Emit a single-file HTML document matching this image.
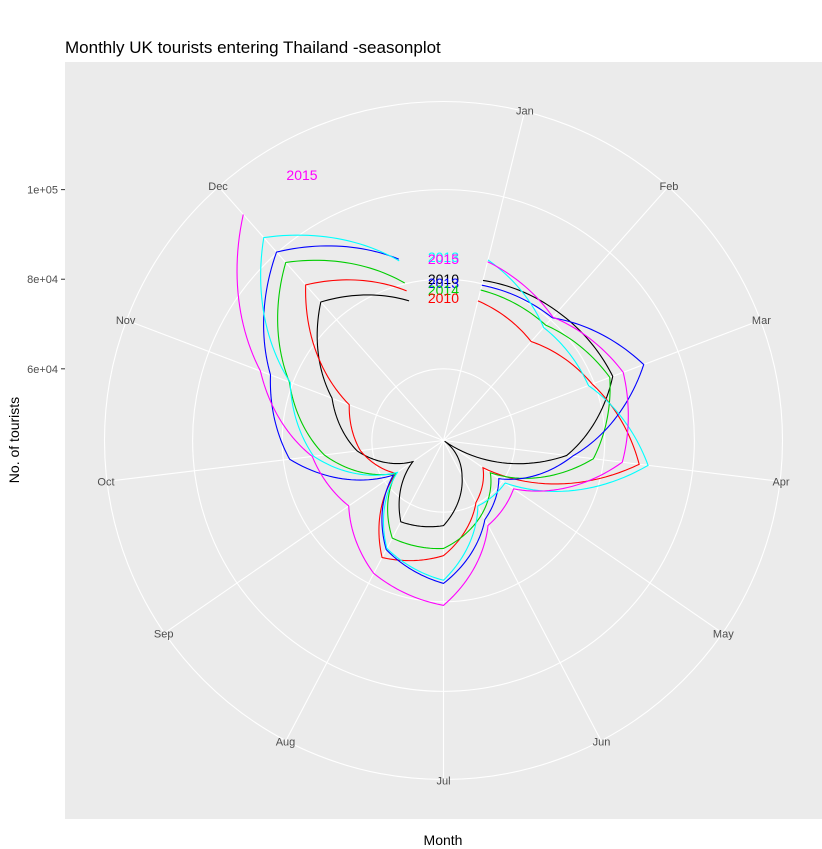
<!DOCTYPE html>
<html>
<head>
<meta charset="utf-8">
<style>
  html, body { margin: 0; padding: 0; background: #ffffff; }
  svg { display: block; font-family: "Liberation Sans", Arial, sans-serif; }
</style>
</head>
<body>
<svg id="chart" width="822" height="849" viewBox="0 0 822 849" xmlns="http://www.w3.org/2000/svg">
  <rect x="0" y="0" width="822" height="849" fill="#ffffff"/>
  <text x="65" y="53" font-size="17" fill="#000">Monthly UK tourists entering Thailand -seasonplot</text>
  <rect x="65" y="62" width="757" height="757" fill="#EBEBEB"/>
  <g id="grid"></g>
  <g id="yaxis"></g>
  <g id="series"></g>
  <g id="labels"></g>
  <g id="months"></g>
  <text transform="translate(19,440) rotate(-90)" text-anchor="middle" font-size="14" fill="#000">No. of tourists</text>
  <text x="443" y="845" text-anchor="middle" font-size="14" fill="#000">Month</text>
</svg>
<script>
const months = ["Jan","Feb","Mar","Apr","May","Jun","Jul","Aug","Sep","Oct","Nov","Dec"];
const yTicks = [60000, 80000, 100000];
const yTickLabels = ["6e+04", "8e+04", "1e+05"];
const gridValues = [60000, 80000, 100000, 120000];
const seriesBlack   = [80800,82400,84400,71700,44300,52900,63000,64500,52300,63400,70600,85300,76100];
const seriesRed     = [76100,73500,79500,88000,54700,59600,69700,73500,56900,62700,66500,90400,78400];
const seriesGreen   = [78600,78400,83700,77700,56700,62500,68100,68600,56900,70800,80800,97100,80200];
const seriesBlue    = [79700,80600,91800,73000,59000,63900,75900,71500,57600,78600,85300,100200,85700];
const seriesCyan    = [85500,77700,78600,90000,60700,60500,75200,71200,56500,73200,80600,104500,85300];
const seriesMagenta = [85100,80800,86900,84200,63000,65400,80800,77500,69700,73500,87700,111400];
const seriesColors = ["#000000","#FF0000","#00CD00","#0000FF","#00FFFF","#FF00FF"];
const seriesNames = ["2010","2011","2012","2013","2014","2015"];
const yearLabelText = ["2010","2010","2014","2013","2013","2015"];

const NS = "http://www.w3.org/2000/svg";
const CX = 443.5, CY = 440.5;
const V0 = 44000, K = 0.00448, ROUT = 339;
function rScale(v) { return Math.max(0, (v - V0) * K); }
function theta(x) { return (x - 0.5) / 13 * 2 * Math.PI; }
function pt(x, r) { const t = theta(x); return [CX + r * Math.sin(t), CY - r * Math.cos(t)]; }

const grid = document.getElementById('grid');
gridValues.forEach((v, i) => {
  const c = document.createElementNS(NS, 'circle');
  
  
  c.setAttribute('cx', CX); c.setAttribute('cy', CY);
  c.setAttribute('r', i === gridValues.length - 1 ? ROUT : rScale(v));
  c.setAttribute('fill', 'none'); c.setAttribute('stroke', '#ffffff'); c.setAttribute('stroke-width', '1.1');
  grid.appendChild(c);
});
months.forEach((m, i) => {
  const p = pt(i + 1, ROUT);
  const l = document.createElementNS(NS, 'line');
  
  
  l.setAttribute('x1', CX); l.setAttribute('y1', CY);
  l.setAttribute('x2', p[0]); l.setAttribute('y2', p[1]);
  l.setAttribute('stroke', '#ffffff'); l.setAttribute('stroke-width', '1.1');
  grid.appendChild(l);
  const lp = pt(i + 1, ROUT + 1);
  const t = document.createElementNS(NS, 'text');
  
  
  t.setAttribute('x', lp[0]); t.setAttribute('y', lp[1] + 4);
  t.setAttribute('text-anchor', 'middle'); t.setAttribute('font-size', '11'); t.setAttribute('fill', '#4D4D4D');
  t.textContent = m;
  document.getElementById('months').appendChild(t);
});

const yaxis = document.getElementById('yaxis');
yTicks.forEach((v, i) => {
  const y = CY - rScale(v);
  const tk = document.createElementNS(NS, 'line');
  
  
  tk.setAttribute('x1', 61); tk.setAttribute('x2', 65); tk.setAttribute('y1', y); tk.setAttribute('y2', y);
  tk.setAttribute('stroke', '#333333'); tk.setAttribute('stroke-width', '1');
  yaxis.appendChild(tk);
  const t = document.createElementNS(NS, 'text');
  
  
  t.setAttribute('x', 58); t.setAttribute('y', y + 4);
  t.setAttribute('text-anchor', 'end'); t.setAttribute('font-size', '11'); t.setAttribute('fill', '#4D4D4D');
  t.textContent = yTickLabels[i];
  yaxis.appendChild(t);
});

const allSeries = [seriesBlack, seriesRed, seriesGreen, seriesBlue, seriesCyan, seriesMagenta];
const sg = document.getElementById('series');
allSeries.forEach((vals, s) => {
  let d = '';
  for (let i = 0; i < vals.length - 1; i++) {
    const r1 = rScale(vals[i]), r2 = rScale(vals[i + 1]);
    const steps = 24;
    for (let k = (i === 0 ? 0 : 1); k <= steps; k++) {
      const f = k / steps;
      const p = pt(i + 1 + f, r1 + (r2 - r1) * f);
      d += (d === '' ? 'M' : 'L') + p[0].toFixed(2) + ',' + p[1].toFixed(2);
    }
  }
  const path = document.createElementNS(NS, 'path');
  
  
  path.setAttribute('d', d);
  path.setAttribute('fill', 'none'); path.setAttribute('stroke', seriesColors[s]); path.setAttribute('stroke-width', '1.1');
  sg.appendChild(path);
});

const lg = document.getElementById('labels');
const labelOrder = [4, 5, 0, 3, 2, 1];
const labelY = [262, 264, 284, 288, 295, 303];
labelOrder.forEach((s, j) => {
  const t = document.createElementNS(NS, 'text');
  
  
  t.setAttribute('x', 459); t.setAttribute('y', labelY[j]);
  t.setAttribute('text-anchor', 'end'); t.setAttribute('font-size', '14'); t.setAttribute('fill', seriesColors[s]);
  t.textContent = yearLabelText[s];
  lg.appendChild(t);
});
const endLabel = document.createElementNS(NS, 'text');


endLabel.setAttribute('x', 302); endLabel.setAttribute('y', 180);
endLabel.setAttribute('text-anchor', 'middle'); endLabel.setAttribute('font-size', '14'); endLabel.setAttribute('fill', '#FF00FF');
endLabel.textContent = '2015';
lg.appendChild(endLabel);
</script>
</body>
</html>
